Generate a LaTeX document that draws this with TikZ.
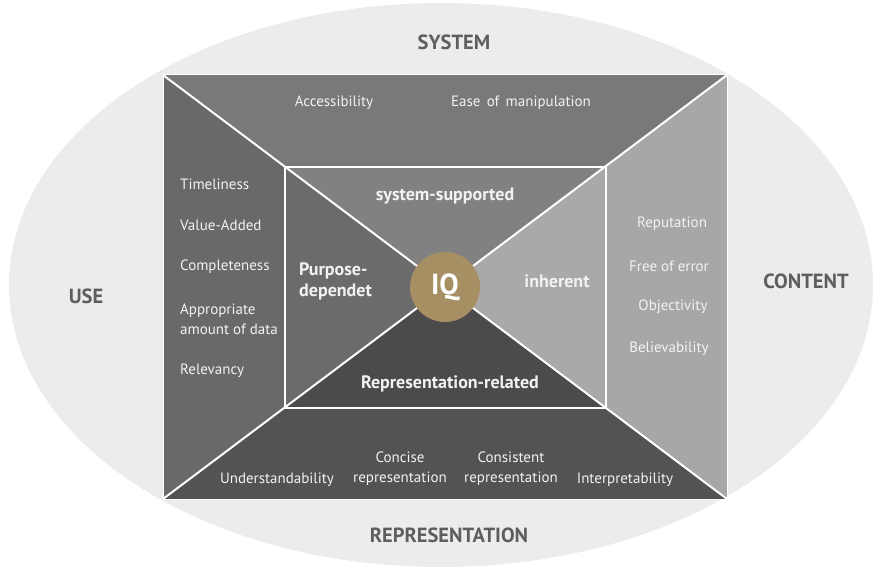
\documentclass[tikz,border=0pt]{standalone}
\usepackage{fontspec}
\setmainfont{PT Sans}
\definecolor{shell}{HTML}{ECECEC}
\definecolor{labelgray}{HTML}{5E5E5E}
\definecolor{topout}{HTML}{7A797A}
\definecolor{leftout}{HTML}{6A6969}
\definecolor{rightout}{HTML}{A8A7A8}
\definecolor{bottomout}{HTML}{545253}
\definecolor{topin}{HTML}{828182}
\definecolor{leftin}{HTML}{6C6B6C}
\definecolor{rightin}{HTML}{A9A9AA}
\definecolor{bottomin}{HTML}{4C4A4B}
\definecolor{gold}{HTML}{A68F63}
\definecolor{itemtext}{HTML}{F2F2F2}
\begin{document}
\begin{tikzpicture}[x=1pt,y=-1pt,
  ring/.style={font=\bfseries\fontsize{20.5}{24}\selectfont, text=labelgray},
  item/.style={font=\fontsize{15}{20}\selectfont, text=itemtext, inner sep=0pt},
  core/.style={font=\bfseries\fontsize{18}{21}\selectfont, text=itemtext, inner sep=0pt},
  divider/.style={white, line width=2pt}]
\useasboundingbox (0,0) rectangle (879,569);

% background ellipse
\fill[shell] (441,285) ellipse [x radius=432, y radius=282];

% corners of the two frames and the centre
\coordinate (OTL) at (163,75);
\coordinate (OTR) at (727,75);
\coordinate (OBR) at (727,499);
\coordinate (OBL) at (163,499);
\coordinate (ITL) at (285,167);
\coordinate (ITR) at (606,167);
\coordinate (IBR) at (606,408);
\coordinate (IBL) at (285,408);
\coordinate (C) at (445,287);

% outer sectors
\fill[topout] (OTL) -- (OTR) -- (C) -- cycle;
\fill[rightout] (OTR) -- (OBR) -- (C) -- cycle;
\fill[bottomout] (OBR) -- (OBL) -- (C) -- cycle;
\fill[leftout] (OBL) -- (OTL) -- (C) -- cycle;

% inner sectors
\fill[topin] (ITL) -- (ITR) -- (C) -- cycle;
\fill[rightin] (ITR) -- (IBR) -- (C) -- cycle;
\fill[bottomin] (IBR) -- (IBL) -- (C) -- cycle;
\fill[leftin] (IBL) -- (ITL) -- (C) -- cycle;

% frames and diagonals
\draw[white, line width=1pt] (OTL) rectangle (OBR);
\draw[divider] (ITL) rectangle (IBR);
\draw[divider] (OTL) -- (C) (OTR) -- (C) (OBR) -- (C) (OBL) -- (C);

% centre
\node[circle, fill=gold, minimum size=70pt, inner sep=0pt, text=white,
      font=\bfseries\fontsize{29}{32}\selectfont] (iq) at (C) {IQ};

% dimension labels
\node[ring] (system) at (454,42) {SYSTEM};
\node[ring] (use) at (86,296) {USE};
\node[ring] (content) at (806,281) {CONTENT};
\node[ring] (repr) at (449,535) {REPRESENTATION};

% system
\node[item] (access) at (334,103) {Accessibility};
\node[item] (ease) at (521,103) {\spaceskip=0.42em\relax Ease of manipulation};

% use
\node[item, anchor=west] (time) at (180,184) {Timeliness};
\node[item, anchor=west] (value) at (180,225) {Value-Added};
\node[item, anchor=west] (compl) at (180,267) {Completeness};
\node[item, anchor=west, align=left] (amount) at (180,319) {Appropriate\\amount of data};
\node[item, anchor=west] (relev) at (180,371) {Relevancy};

% content
\node[item] (reput) at (672,224) {Reputation};
\node[item] (error) at (669,266) {Free of error};
\node[item] (object) at (673,307) {Objectivity};
\node[item] (believe) at (669,349) {Believability};

% representation
\node[item] (under) at (277,480) {Understandability};
\node[item, align=center] (concise) at (400,469) {Concise\\representation};
\node[item, align=center] (consist) at (511,469) {Consistent\\representation};
\node[item] (interp) at (625,480) {Interpretability};

% inner categories
\node[core] (sysup) at (445,196) {system-supported};
\node[core, anchor=west, align=left] (purpose) at (299,281) {Purpose-\\dependet};
\node[core] (inher) at (557,281) {inherent};
\node[core] (reprel) at (450,384) {Representation-related};
\end{tikzpicture}
\end{document}
